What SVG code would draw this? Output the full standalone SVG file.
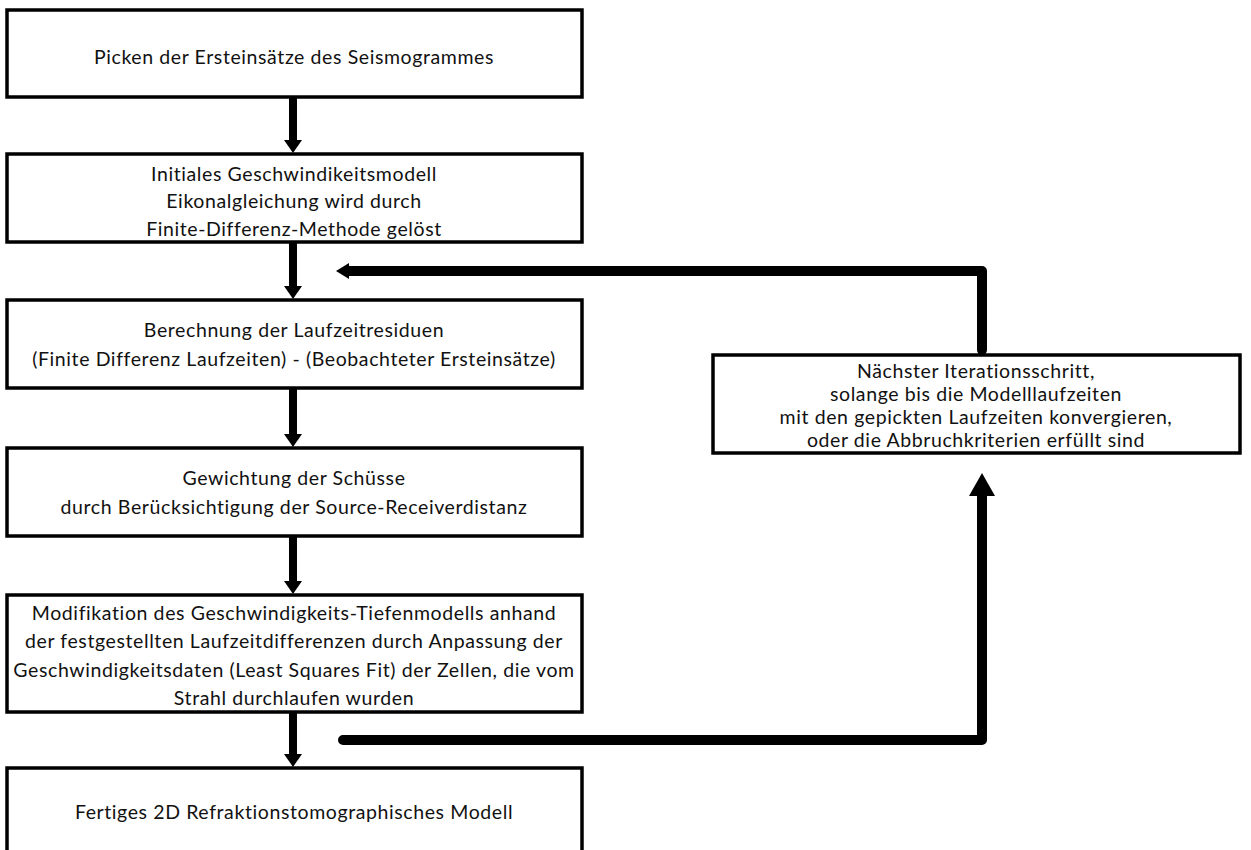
<svg xmlns="http://www.w3.org/2000/svg" width="1251" height="850" viewBox="0 0 1251 850">
<style>
.box{fill:#fff;stroke:#000;stroke-width:3.5}
.t{font-family:Lato,"Liberation Sans",sans-serif;font-size:19.5px;letter-spacing:0.6px;fill:#111;text-anchor:middle}
.ln{fill:none;stroke:#000;stroke-width:8}
.fb{fill:none;stroke:#000;stroke-width:10;stroke-linejoin:round;stroke-linecap:round}
</style>
<rect width="1251" height="850" fill="#fff"/>
<g id="connectors">
<path class="ln" d="M293,97 V141"/><polygon points="284,140 302,140 293,153"/>
<path class="ln" d="M293,242 V287"/><polygon points="284,286 302,286 293,299"/>
<path class="ln" d="M293,388 V435"/><polygon points="284,434 302,434 293,447"/>
<path class="ln" d="M293,536 V582"/><polygon points="284,581 302,581 293,594"/>
<path class="ln" d="M293,712 V755"/><polygon points="284,754 302,754 293,767"/>
<path class="fb" d="M982,350 V271 H348"/><polygon points="349,263 349,279 336,271"/>
<path class="fb" d="M343,740 H982 V495"/><polygon points="969,496 995,496 982,473"/>
</g>
<g id="n1"><rect class="box" x="7" y="10" width="575" height="87"/>
<text class="t" x="294" y="64">Picken der Ersteinsätze des Seismogrammes</text></g>
<g id="n2"><rect class="box" x="7" y="154" width="575" height="88"/>
<text class="t" x="294" y="181">Initiales Geschwindikeitsmodell</text>
<text class="t" x="294" y="208">Eikonalgleichung wird durch</text>
<text class="t" x="294" y="236">Finite-Differenz-Methode gelöst</text></g>
<g id="n3"><rect class="box" x="7" y="300" width="575" height="88"/>
<text class="t" x="294" y="337">Berechnung der Laufzeitresiduen</text>
<text class="t" x="294" y="366">(Finite Differenz Laufzeiten) - (Beobachteter Ersteinsätze)</text></g>
<g id="n4"><rect class="box" x="7" y="448" width="575" height="88"/>
<text class="t" x="294" y="485">Gewichtung der Schüsse</text>
<text class="t" x="294" y="514">durch Berücksichtigung der Source-Receiverdistanz</text></g>
<g id="n5"><rect class="box" x="7" y="595" width="575" height="117"/>
<text class="t" x="294" y="620">Modifikation des Geschwindigkeits-Tiefenmodells anhand</text>
<text class="t" x="294" y="648">der festgestellten Laufzeitdifferenzen durch Anpassung der</text>
<text class="t" x="294" y="677">Geschwindigkeitsdaten (Least Squares Fit) der Zellen, die vom</text>
<text class="t" x="294" y="705">Strahl durchlaufen wurden</text></g>
<g id="n6"><rect class="box" x="7" y="768" width="575" height="110"/>
<text class="t" x="294" y="819">Fertiges 2D Refraktionstomographisches Modell</text></g>
<g id="n7"><rect class="box" x="713" y="355" width="527" height="98"/>
<text class="t" x="976" y="378">Nächster Iterationsschritt,</text>
<text class="t" x="976" y="401">solange bis die Modelllaufzeiten</text>
<text class="t" x="976" y="424">mit den gepickten Laufzeiten konvergieren,</text>
<text class="t" x="976" y="447">oder die Abbruchkriterien erfüllt sind</text></g>
</svg>
